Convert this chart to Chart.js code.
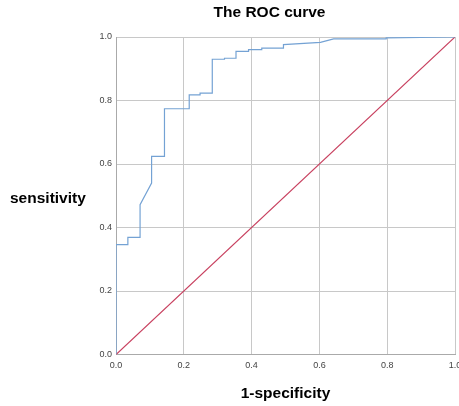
<!DOCTYPE html>
<html>
<head>
<meta charset="utf-8">
<script src="https://cdn.jsdelivr.net/npm/chart.js@4/dist/chart.umd.min.js"></script>
<style>
  html, body { margin: 0; padding: 0; background: #fff; }
  canvas { display: block; }
</style>
</head>
<body>
<canvas id="c" width="459" height="406"></canvas>
<script>
// ROC curve points (1-specificity, sensitivity)
const rocX = [0, 0, 0.035, 0.035, 0.071, 0.071, 0.105, 0.105, 0.143, 0.143, 0.216, 0.216, 0.248, 0.248, 0.284, 0.284, 0.320, 0.320, 0.354, 0.354, 0.391, 0.391, 0.430, 0.430, 0.494, 0.494, 0.603, 0.642, 0.797, 0.797, 1];
const rocY = [0, 0.346, 0.346, 0.369, 0.369, 0.472, 0.540, 0.624, 0.624, 0.774, 0.774, 0.818, 0.818, 0.823, 0.823, 0.930, 0.930, 0.933, 0.933, 0.955, 0.955, 0.960, 0.960, 0.965, 0.965, 0.976, 0.983, 0.994, 0.994, 0.997, 1];
// Reference diagonal
const refX = [0, 1];
const refY = [0, 1];
const tickValues = [0, 0.2, 0.4, 0.6, 0.8, 1.0];
const titleText = 'The ROC curve';
const xTitleText = '1-specificity';
const yTitleText = 'sensitivity';

const FONT = "'Liberation Sans', Arial, sans-serif";

const textPlugin = {
  id: 'texts',
  afterDraw(chart) {
    const ctx = chart.ctx;
    ctx.save();
    ctx.font = 'bold 15.5px ' + FONT;
    ctx.fillStyle = '#000';
    ctx.textBaseline = 'alphabetic';
    ctx.textAlign = 'left';
    ctx.fillText(yTitleText, 10, 203);
    ctx.textAlign = 'center';
    ctx.fillText(titleText, 269.5, 16.5);
    ctx.restore();
  }
};

const toPts = (xs, ys) => xs.map((x, i) => ({ x: x, y: ys[i] }));

new Chart(document.getElementById('c'), {
  type: 'scatter',
  data: {
    datasets: [
      {
        label: 'ROC',
        data: toPts(rocX, rocY),
        showLine: true,
        borderColor: '#74a2d4',
        borderWidth: 1.2,
        pointRadius: 0,
        tension: 0
      },
      {
        label: 'Reference',
        data: toPts(refX, refY),
        showLine: true,
        borderColor: '#c8405f',
        borderWidth: 1.2,
        pointRadius: 0
      }
    ]
  },
  options: {
    responsive: false,
    animation: false,
    layout: { padding: { left: 0, right: 4, top: 37, bottom: 0 } },
    plugins: {
      legend: { display: false },
      tooltip: { enabled: false },
      title: { display: false }
    },
    scales: {
      x: {
        type: 'linear',
        min: 0, max: 1,
        afterBuildTicks(scale) { scale.ticks = tickValues.map(v => ({ value: v })); },
        afterFit(scale) { scale.height = 51.5; scale.paddingRight = 0; scale.paddingLeft = 0; },
        ticks: {
          color: '#444',
          font: { family: FONT, size: 9 },
          padding: 6,
          maxRotation: 0,
          callback: v => Number(v).toFixed(1)
        },
        grid: { color: '#c8c8c8', drawTicks: false },
        border: { color: '#aaa' },
        title: {
          display: true,
          text: xTitleText,
          color: '#000',
          font: { family: FONT, size: 15.5, weight: 'bold' },
          padding: { top: 0, bottom: 3 }
        }
      },
      y: {
        type: 'linear',
        min: 0, max: 1,
        afterBuildTicks(scale) { scale.ticks = tickValues.map(v => ({ value: v })); },
        afterFit(scale) { scale.width = 116; },
        ticks: {
          color: '#444',
          font: { family: FONT, size: 9 },
          padding: 4,
          callback: v => Number(v).toFixed(1)
        },
        grid: { color: '#c8c8c8', drawTicks: false },
        border: { color: '#aaa' }
      }
    }
  },
  plugins: [textPlugin]
});
</script>
</body>
</html>
